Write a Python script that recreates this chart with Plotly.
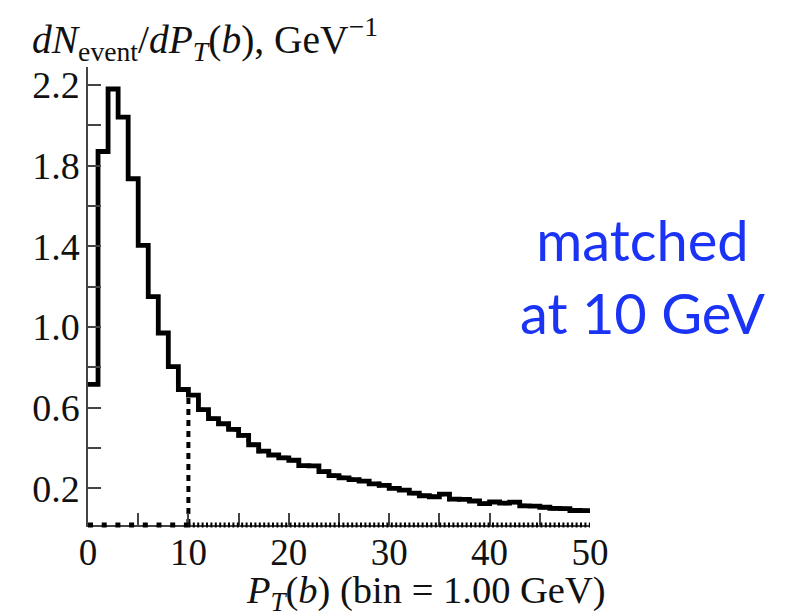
import numpy as np
import plotly.graph_objects as go

# b-jet transverse momentum spectrum, 1 GeV bins from 0 to 50 GeV
bin_edges = list(range(0, 51))
total = [0.715, 1.87, 2.18, 2.04, 1.735, 1.405, 1.15, 0.97, 0.803, 0.69,
         0.662, 0.59, 0.545, 0.52, 0.492, 0.462, 0.416, 0.384, 0.365, 0.351,
         0.339, 0.312, 0.311, 0.283, 0.263, 0.252, 0.243, 0.236, 0.222, 0.214,
         0.2, 0.191, 0.176, 0.163, 0.158, 0.171, 0.146, 0.145, 0.137, 0.124,
         0.132, 0.126, 0.131, 0.113, 0.112, 0.106, 0.1, 0.099, 0.09, 0.089]
match_scale = 10  # GeV
# contributions above and below the matching scale
above_cut = [v if e >= match_scale else 0.0 for e, v in zip(bin_edges[:-1], total)]
below_cut = [v if e < match_scale else 0.0 for e, v in zip(bin_edges[:-1], total)]

y_tick_vals = [0.2, 0.4, 0.6, 0.8, 1.0, 1.2, 1.4, 1.6, 1.8, 2.0, 2.2]
y_tick_text = ["0.2", "", "0.6", "", "1.0", "", "1.4", "", "1.8", "", "2.2"]
x_tick_vals = [0, 5, 10, 15, 20, 25, 30, 35, 40, 45, 50]
x_tick_text = ["0", "", "10", "", "20", "", "30", "", "40", "", "50"]

Y_MIN, Y_MAX = 0.018, 2.289
SERIF = "Liberation Serif, Times New Roman, serif"

fig = go.Figure()


def empty_runs(vals):
    """(start, stop) bin-edge pairs of consecutive empty bins."""
    runs, start = [], None
    for i, v in enumerate(vals):
        if v <= 0 and start is None:
            start = i
        if v > 0 and start is not None:
            runs.append((bin_edges[start], bin_edges[i]))
            start = None
    if start is not None:
        runs.append((bin_edges[start], bin_edges[len(vals)]))
    return runs


def add_histogram(vals, width, dash, floor_width, floor_dash, draw_filled=True):
    vals = list(vals)
    # empty bins sit on the x axis: drawn as baseline segments
    for x0, x1 in empty_runs(vals):
        fig.add_shape(type="line", xref="x", yref="paper", x0=x0, x1=x1, y0=0, y1=0,
                      line=dict(color="black", width=floor_width, dash=floor_dash),
                      layer="above")
    if not draw_filled:
        return
    nz = [i for i, v in enumerate(vals) if v > 0]
    first = nz[0]
    xs = bin_edges[first:]
    ys = vals[first:] + [vals[-1]]
    if first > 0:  # rise from the axis at the first filled bin
        xs = [bin_edges[first]] + xs
        ys = [Y_MIN] + ys
    fig.add_trace(go.Scatter(
        x=xs, y=ys, mode="lines", line_shape="hv",
        line=dict(color="black", width=width, dash=dash), hoverinfo="skip"))


# below-cut contribution: dotted (only its empty part shows beyond the total)
add_histogram(below_cut, 2, "2px,2.4px", 5, "2px,2.4px", draw_filled=False)
# above-cut (matched) contribution: dashed
add_histogram(above_cut, 4, "6px,5px", 5, "5px,8.7px")
# total: thick solid
add_histogram(total, 4.8, "solid", 4.8, "solid")

axis_common = dict(
    showline=True, linecolor="#444", linewidth=1.5,
    ticks="inside", tickcolor="#444", tickwidth=1.5,
    showgrid=False, zeroline=False, mirror=False,
)

fig.update_layout(
    width=801, height=613,
    margin=dict(l=88, r=211, t=67, b=88, pad=0),
    paper_bgcolor="white", plot_bgcolor="white",
    showlegend=False,
    xaxis=dict(range=[0, 50], tickmode="array", tickvals=x_tick_vals,
               ticktext=x_tick_text, ticklen=12, ticklabelstandoff=-6,
               tickfont=dict(family=SERIF, size=37, color="#111"),
               **axis_common),
    yaxis=dict(range=[Y_MIN, Y_MAX], tickmode="array", tickvals=y_tick_vals,
               ticktext=y_tick_text, ticklen=13, ticklabelstandoff=-1,
               tickfont=dict(family=SERIF, size=38, color="#111"),
               **axis_common),
)

PW, PH, L, B = 502, 457, 88, 525


def px(xp):
    return (xp - L) / PW


def py(yp):
    return (B - yp) / PH


annotations = [
    dict(text="<i>dN</i><sub>event</sub>/<i>dP</i><sub><i>T</i></sub>(<i>b</i>), GeV<sup>−1</sup>",
         x=px(30), y=py(40), xanchor="left", yanchor="middle",
         font=dict(family=SERIF, size=39.5, color="#111")),
    dict(text="<i>P</i><sub><i>T</i></sub>(<i>b</i>) (bin = 1.00 GeV)",
         x=px(608), y=py(593), xanchor="right", yanchor="middle",
         font=dict(family=SERIF, size=38.5, color="#111")),
    dict(text="matched<br>at 10 GeV",
         x=px(642), y=py(277), xanchor="center", yanchor="middle", align="center",
         font=dict(family="Lato, sans-serif", size=56, color="#1a33f5")),
]
for a in annotations:
    fig.add_annotation(xref="paper", yref="paper", showarrow=False, **a)

fig.write_html("out.html")
